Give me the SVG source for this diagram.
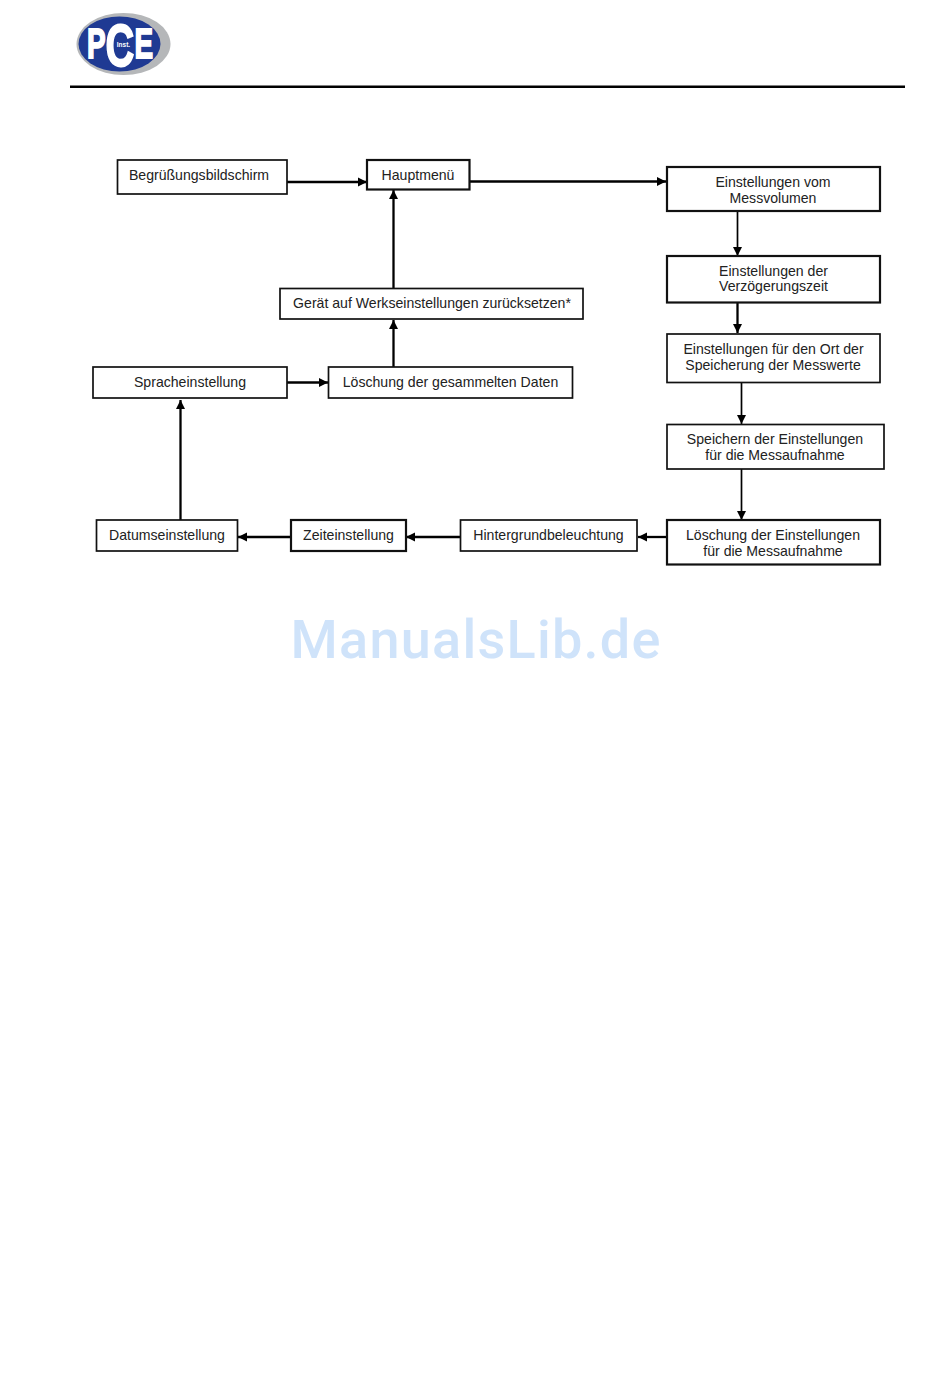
<svg xmlns="http://www.w3.org/2000/svg" width="950" height="1387" viewBox="0 0 950 1387">
<style>
.box{fill:#fff;stroke:#111;stroke-width:1.7}
.b2{stroke-width:2.2}
.t{font-family:"Liberation Sans",Arial,sans-serif;font-size:14.1px;fill:#222;text-anchor:middle}
.c{fill:none;stroke:#000;stroke-width:2.3}
.c1{stroke-width:1.7}
</style>
<defs>
<marker id="a" markerUnits="userSpaceOnUse" markerWidth="10" markerHeight="10" refX="9" refY="5" orient="auto"><path d="M0 0.500L9 5L0 9.500z" fill="#000"/></marker>
</defs>
<rect width="950" height="1387" fill="#fff"/>
<g id="logo">
<ellipse cx="123.500" cy="44" rx="47" ry="31" fill="#b5b7b9"/>
<ellipse cx="119.500" cy="44" rx="41" ry="27.500" fill="#1f3a93"/>
<text x="87" y="58" font-family="'Liberation Sans',sans-serif" font-weight="700" font-size="42" fill="#fff" stroke="#fff" stroke-width="1.800" textLength="66" lengthAdjust="spacingAndGlyphs">P<tspan font-size="60" dy="8">C</tspan><tspan dy="-8">E</tspan></text>
<text x="123.500" y="47" font-family="'Liberation Sans',sans-serif" font-weight="700" font-size="6.500" fill="#fff" text-anchor="middle">Inst.</text>
</g>
<rect id="rule" x="70" y="85.500" width="835" height="2.500" fill="#000"/>
<g id="connectors">
<path class="c" marker-end="url(#a)" d="M287 182H367"/>
<path class="c" marker-end="url(#a)" d="M470 181.500H666"/>
<path class="c c1" marker-end="url(#a)" d="M737.500 211V256"/>
<path class="c" marker-end="url(#a)" d="M737.500 303V333"/>
<path class="c c1" marker-end="url(#a)" d="M741.500 383V424"/>
<path class="c c1" marker-end="url(#a)" d="M741.500 469V520"/>
<path class="c" marker-end="url(#a)" d="M667 537H638"/>
<path class="c" marker-end="url(#a)" d="M461 537H406"/>
<path class="c" marker-end="url(#a)" d="M291 537H238"/>
<path class="c" marker-end="url(#a)" d="M180.500 520V400"/>
<path class="c" marker-end="url(#a)" d="M287 382.500H328"/>
<path class="c" marker-end="url(#a)" d="M393.500 367V320"/>
<path class="c" marker-end="url(#a)" d="M393.500 288V190"/>
</g>
<g id="n1"><rect class="box" x="117.500" y="160" width="169.500" height="34"/><text class="t" x="199" y="179.500">Begrüßungsbildschirm</text></g>
<g id="n2"><rect class="box b2" x="367" y="160" width="102.500" height="29.500"/><text class="t" x="418" y="179.500">Hauptmenü</text></g>
<g id="n3"><rect class="box b2" x="667" y="167" width="213" height="44"/><text class="t" x="773" y="186.500">Einstellungen vom</text><text class="t" x="773" y="202.500">Messvolumen</text></g>
<g id="n4"><rect class="box b2" x="667" y="256" width="213" height="46.500"/><text class="t" x="773.500" y="275.500">Einstellungen der</text><text class="t" x="773.500" y="291">Verzögerungszeit</text></g>
<g id="n5"><rect class="box" x="667" y="334" width="213" height="48.500"/><text class="t" x="773.500" y="353.500">Einstellungen für den Ort der</text><text class="t" x="773" y="369.500">Speicherung der Messwerte</text></g>
<g id="n6"><rect class="box" x="667" y="424.500" width="217" height="44.500"/><text class="t" x="775" y="443.500">Speichern der Einstellungen</text><text class="t" x="775" y="459.500">für die Messaufnahme</text></g>
<g id="n7"><rect class="box b2" x="667" y="520" width="213" height="44.500"/><text class="t" x="773" y="539.500">Löschung der Einstellungen</text><text class="t" x="773" y="555.500">für die Messaufnahme</text></g>
<g id="n8"><rect class="box" x="460.500" y="520" width="176.500" height="31"/><text class="t" x="548.500" y="539.500">Hintergrundbeleuchtung</text></g>
<g id="n9"><rect class="box b2" x="291" y="520" width="115" height="31"/><text class="t" x="348.500" y="539.500">Zeiteinstellung</text></g>
<g id="n10"><rect class="box" x="96.500" y="520" width="141" height="31"/><text class="t" x="167" y="539.500">Datumseinstellung</text></g>
<g id="n11"><rect class="box" x="93" y="367" width="194" height="31"/><text class="t" x="190" y="386.500">Spracheinstellung</text></g>
<g id="n12"><rect class="box" x="328.500" y="367" width="244" height="31"/><text class="t" x="450.500" y="386.500">Löschung der gesammelten Daten</text></g>
<g id="n13"><rect class="box" x="280" y="288.500" width="303" height="30.500"/><text class="t" x="432" y="307.500">Gerät auf Werkseinstellungen zurücksetzen*</text></g>
<text id="watermark" x="475.500" y="658" font-family="Roboto,sans-serif" font-weight="500" font-size="54" fill="#cfe3fa" text-anchor="middle" textLength="370" lengthAdjust="spacing">ManualsLib.de</text>
</svg>
